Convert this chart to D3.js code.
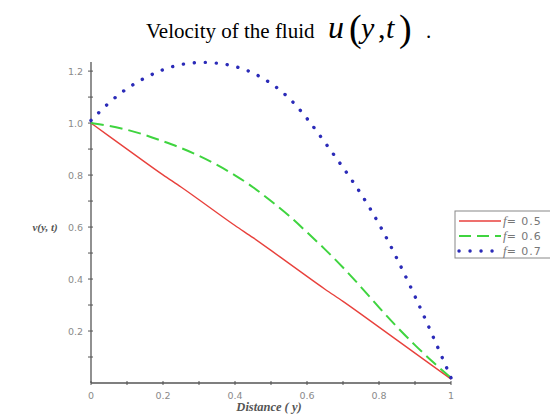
<!DOCTYPE html>
<html>
<head>
<meta charset="utf-8">
<script src="https://cdn.jsdelivr.net/npm/d3@7"></script>
<style>
  body { margin: 0; background: #fff; }
  svg { display: block; }
</style>
</head>
<body>
<svg id="chart" width="550" height="415"></svg>
<script>
// distance y, sampled every 0.05
const distance = [0, 0.05, 0.1, 0.15, 0.2, 0.25, 0.3, 0.35, 0.4, 0.45, 0.5,
                  0.55, 0.6, 0.65, 0.7, 0.75, 0.8, 0.85, 0.9, 0.95, 1.0]
// velocity for f = 0.5, 0.6, 0.7
const velF05 = [1.00, 0.95, 0.90, 0.85, 0.80, 0.755, 0.705, 0.655, 0.605, 0.56, 0.51,
                0.46, 0.41, 0.36, 0.315, 0.265, 0.215, 0.165, 0.115, 0.065, 0.015]
const velF06 = [1.00, 0.99, 0.975, 0.955, 0.93, 0.905, 0.875, 0.84, 0.80, 0.755, 0.70,
                0.645, 0.58, 0.515, 0.445, 0.37, 0.29, 0.215, 0.145, 0.08, 0.02]
const velF07 = [1.01, 1.08, 1.135, 1.175, 1.207, 1.227, 1.235, 1.232, 1.22, 1.195, 1.155,
                1.10, 1.02, 0.925, 0.83, 0.73, 0.615, 0.48, 0.335, 0.18, 0.02]
const seriesNames = ['0.5', '0.6', '0.7']
const xTicks = [0, 0.2, 0.4, 0.6, 0.8, 1]
const yTicks = [0.2, 0.4, 0.6, 0.8, 1.0, 1.2]

const svg = d3.select('#chart')

//scales
const x = d3.scaleLinear().domain([0, 1]).range([91, 451])
const y = d3.scaleLinear().domain([0, 1.235]).range([383, 62])

const axisColor = '#555'
const labelColor = '#8a8a8a'

//axes
const xAxis = svg.append('g')
    .attr('transform', `translate(0, ${y(0)})`)
xAxis.append('line')
    .attr('x1', x(0)).attr('x2', x(1))
    .attr('stroke', axisColor).attr('stroke-width', 1.3)
xAxis.selectAll('.minor')
    .data(d3.range(0, 1.001, 0.1))
    .enter().append('line')
    .attr('x1', d => x(d)).attr('x2', d => x(d))
    .attr('y1', -2).attr('y2', 2)
    .attr('stroke', axisColor)
xAxis.selectAll('.tl')
    .data(xTicks)
    .enter().append('text')
    .attr('x', d => x(d))
    .attr('y', 16)
    .attr('text-anchor', 'middle')
    .attr('font-family', 'DejaVu Sans')
    .attr('font-size', '9.5px')
    .attr('fill', labelColor)
    .text(d => d === 0 || d === 1 ? d3.format('d')(d) : d3.format('.1f')(d))

const yAxis = svg.append('g')
    .attr('transform', `translate(${x(0)}, 0)`)
yAxis.append('line')
    .attr('y1', y(0)).attr('y2', y(1.235))
    .attr('stroke', axisColor).attr('stroke-width', 1.3)
yAxis.selectAll('.minor')
    .data(d3.range(0.1, 1.21, 0.1))
    .enter().append('line')
    .attr('y1', d => y(d)).attr('y2', d => y(d))
    .attr('x1', -3).attr('x2', 2)
    .attr('stroke', axisColor)
yAxis.selectAll('.tl')
    .data(yTicks)
    .enter().append('text')
    .attr('x', -8)
    .attr('y', d => y(d) + 3.5)
    .attr('text-anchor', 'end')
    .attr('font-family', 'DejaVu Sans')
    .attr('font-size', '9.5px')
    .attr('fill', labelColor)
    .text(d => d3.format('.1f')(d))

//axis labels
svg.append('text')
    .attr('x', 269).attr('y', 411)
    .attr('text-anchor', 'middle')
    .attr('font-family', 'Liberation Serif')
    .attr('font-style', 'italic')
    .attr('font-weight', 'bold')
    .attr('font-size', '12.5px')
    .attr('fill', '#555')
    .text('Distance ( y)')

svg.append('text')
    .attr('x', 45).attr('y', 231)
    .attr('text-anchor', 'middle')
    .attr('font-family', 'Liberation Serif')
    .attr('font-style', 'italic')
    .attr('font-weight', 'bold')
    .attr('font-size', '11px')
    .attr('fill', '#555')
    .text('v(y, t)')

//title
const title = svg.append('text')
    .attr('y', 38)
    .attr('font-family', 'Liberation Serif')
    .attr('fill', '#000')
title.append('tspan').attr('x', 146).attr('font-size', '21px').text('Velocity of the fluid')
title.append('tspan').attr('x', 328).attr('font-size', '32px').attr('font-style', 'italic').text('u')
title.append('tspan').attr('x', 349).attr('font-size', '38px').attr('dy', 3).text('(')
title.append('tspan').attr('x', 361).attr('font-size', '30px').attr('font-style', 'italic').attr('dy', -3).text('y')
title.append('tspan').attr('x', 378).attr('font-size', '30px').text(',')
title.append('tspan').attr('x', 386).attr('font-size', '30px').attr('font-style', 'italic').text('t')
title.append('tspan').attr('x', 399).attr('font-size', '38px').attr('dy', 3).text(')')
title.append('tspan').attr('x', 426).attr('font-size', '21px').attr('dy', -3).text('.')

//curves
const styles = [
    { color: '#e8413c', width: 1.4, dash: null, cap: 'butt' },
    { color: '#3fd43f', width: 2, dash: '13,6', cap: 'butt' },
    { color: '#2b2bb8', width: 3.4, dash: '0.1,10.9', cap: 'round' }
]
const seriesVals = [velF05, velF06, velF07]

const line = d3.line()
    .x(d => x(d[0]))
    .y(d => y(d[1]))
    .curve(d3.curveBasis)

seriesVals.forEach((vals, i) => {
    const s = styles[i]
    svg.append('path')
        .datum(distance.map((d, j) => [d, vals[j]]))
        .attr('fill', 'none')
        .attr('stroke', s.color)
        .attr('stroke-width', s.width)
        .attr('stroke-dasharray', s.dash)
        .attr('stroke-linecap', s.cap)
        .attr('d', line)
})

//legend
const legend = svg.append('g')
legend.append('rect')
    .attr('x', 455).attr('y', 211)
    .attr('width', 110).attr('height', 47)
    .attr('fill', '#fff')
    .attr('stroke', '#888')
seriesNames.forEach((name, i) => {
    const s = styles[i]
    const ly = 221 + i * 15
    legend.append('line')
        .attr('x1', 459).attr('x2', 501)
        .attr('y1', ly).attr('y2', ly)
        .attr('stroke', s.color)
        .attr('stroke-width', s.width)
        .attr('stroke-dasharray', i === 1 ? '12,6' : s.dash)
        .attr('stroke-linecap', s.cap)
    const t = legend.append('text')
        .attr('x', 503).attr('y', ly + 4)
        .attr('font-family', 'DejaVu Sans')
        .attr('font-size', '11px')
        .attr('fill', '#777')
    t.append('tspan').attr('font-family', 'Liberation Serif').attr('font-style', 'italic').attr('font-size', '13px').text('f')
    t.append('tspan').attr('letter-spacing', '1px').text('= ' + name)
})
</script>
</body>
</html>
